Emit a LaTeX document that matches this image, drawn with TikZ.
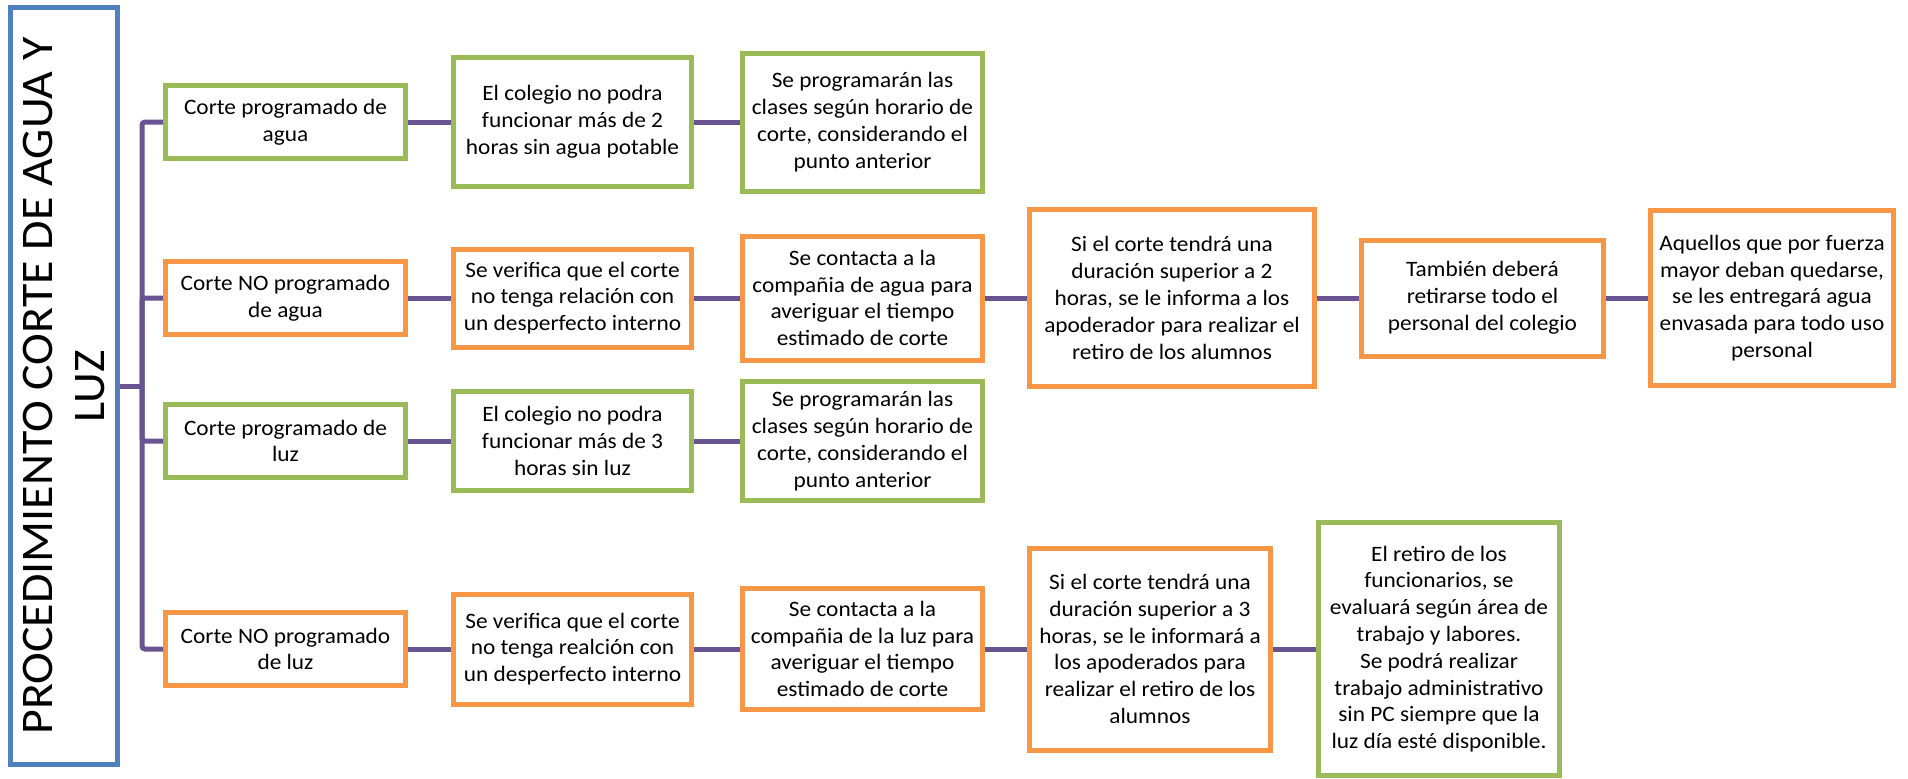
\documentclass[tikz,border=0pt]{standalone}
\usepackage{fontspec}
\setmainfont{Carlito}[FakeStretch=1.06]
\usetikzlibrary{positioning}

\definecolor{verde}{HTML}{9BBB59}
\definecolor{naranja}{HTML}{F79646}
\definecolor{azul}{HTML}{4F81BD}
\definecolor{morado}{HTML}{6A5391}

\begin{document}
\begin{tikzpicture}[x=0.5pt, y=-0.5pt, node distance=21.5pt,
                    font=\fontsize{11}{13.4}\selectfont]
    \tikzstyle{caja}=[draw, line width=2.5pt, fill=white, align=center,
                      inner xsep=1pt, inner ysep=2pt, minimum width=120pt, minimum height=36.5pt]
    \tikzstyle{fija}=[caja, draw=verde]
    \tikzstyle{aviso}=[caja, draw=naranja]
    \tikzstyle{linea}=[draw=morado, line width=2.5pt, rounded corners=1.5pt]

    \useasboundingbox (0,0) rectangle (1908,778);

    \node[caja, draw=azul, rotate=90, minimum width=378.5pt, minimum height=53.5pt,
          font=\fontsize{22.6}{26}\selectfont] (titulo) at (64,386)
          {PROCEDIMIENTO CORTE DE AGUA Y\\LUZ};

    \node[fija]  (a1) at (285.5,122) {Corte programado de\\agua};
    \node[fija, minimum width=119pt, minimum height=64.5pt] (a2) [right=of a1]
          {El colegio no podra\\funcionar más de 2\\horas sin agua potable};
    \node[fija, minimum height=69pt] (a3) [right=23pt of a2]
          {Se programarán las\\clases según horario de\\corte, considerando el\\punto anterior};

    \node[aviso] (b1) at (285.5,298) {Corte NO programado\\de agua};
    \node[aviso, minimum width=119pt, minimum height=49pt] (b2) [right=of b1]
          {Se verifica que el corte\\no tenga relación con\\un desperfecto interno};
    \node[aviso, minimum height=62pt] (b3) [right=23pt of b2]
          {Se contacta a la\\compañia de agua para\\averiguar el tiempo\\estimado de corte};
    \node[aviso, minimum width=142.5pt, minimum height=88.5pt] (b4) [right=21pt of b3]
          {Si el corte tendrá una\\duración superior a 2\\horas, se le informa a los\\apoderador para realizar el\\retiro de los alumnos};
    \node[aviso, minimum width=121pt, minimum height=58pt] (b5) [right=21pt of b4]
          {También deberá\\retirarse todo el\\personal del colegio};
    \node[aviso, minimum width=121.5pt, minimum height=87.5pt] (b6) [right=21pt of b5]
          {Aquellos que por fuerza\\mayor deban quedarse,\\se les entregará agua\\envasada para todo uso\\personal};

    \node[fija]  (c1) at (285.5,441) {Corte programado de\\luz};
    \node[fija, minimum width=119pt, minimum height=49.5pt] (c2) [right=of c1]
          {El colegio no podra\\funcionar más de 3\\horas sin luz};
    \node[fija, minimum height=59.5pt] (c3) [right=23pt of c2]
          {Se programarán las\\clases según horario de\\corte, considerando el\\punto anterior};

    \node[aviso] (d1) at (285.5,649) {Corte NO programado\\de luz};
    \node[aviso, minimum width=119pt, minimum height=55pt] (d2) [right=of d1]
          {Se verifica que el corte\\no tenga realción con\\un desperfecto interno};
    \node[aviso, minimum height=60.5pt] (d3) [right=23pt of d2]
          {Se contacta a la\\compañia de la luz para\\averiguar el tiempo\\estimado de corte};
    \node[aviso, minimum width=120.5pt, minimum height=101pt] (d4) [right=21pt of d3]
          {Si el corte tendrá una\\duración superior a 3\\horas, se le informará a\\los apoderados para\\realizar el retiro de los\\alumnos};
    \node[fija, minimum width=120.5pt, minimum height=126.5pt] (d5) [right=of d4]
          {El retiro de los\\funcionarios, se\\evaluará según área de\\trabajo y labores.\\Se podrá realizar\\trabajo administrativo\\sin PC siempre que la\\luz día esté disponible.};

    \coordinate (fork) at (142,386);
    \draw[linea] (titulo) -- (fork);
    \draw[linea] (fork) |- (a1.west);
    \draw[linea] (fork) |- (b1.west);
    \draw[linea] (fork) |- (c1.west);
    \draw[linea] (fork) |- (d1.west);

    \path[linea] (a1) edge (a2);
    \path[linea] (a2) edge (a3);
    \path[linea] (b1) edge (b2);
    \path[linea] (b2) edge (b3);
    \path[linea] (b3) edge (b4);
    \path[linea] (b4) edge (b5);
    \path[linea] (b5) edge (b6);
    \path[linea] (c1) edge (c2);
    \path[linea] (c2) edge (c3);
    \path[linea] (d1) edge (d2);
    \path[linea] (d2) edge (d3);
    \path[linea] (d3) edge (d4);
    \path[linea] (d4) edge (d5);
\end{tikzpicture}
\end{document}
